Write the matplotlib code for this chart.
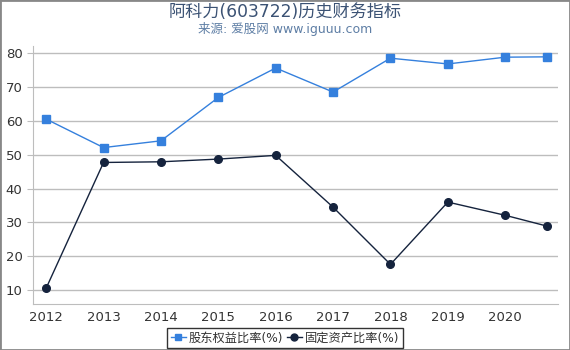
import matplotlib
matplotlib.use("Agg")
import matplotlib.pyplot as plt
from matplotlib.lines import Line2D

plt.rcParams['font.family'] = ['DejaVu Sans', 'Noto Sans CJK SC']

years = [2012, 2013, 2014, 2015, 2016, 2017, 2018, 2019, 2020, 2020.73]
equity_ratio = [60.5, 52.1, 54.1, 66.9, 75.6, 68.5, 78.5, 76.8, 78.8, 78.9]
fixed_asset_ratio = [10.6, 47.7, 47.9, 48.7, 49.8, 34.5, 17.6, 36.0, 32.1, 28.9]
xticks = [2012, 2013, 2014, 2015, 2016, 2017, 2018, 2019, 2020]
yticks = [10, 20, 30, 40, 50, 60, 70, 80]

blue = '#3580dd'
dark = '#15233d'
grid_c = '#bdbdbd'
text_c = '#333333'

fig = plt.figure(figsize=(5.7, 3.5), dpi=100)
ax = fig.add_axes([33 / 570, 46 / 350, 525 / 570, 258 / 350])

ax.plot(years, equity_ratio, color=blue, lw=1, marker='s', ms=5.5,
        label='股东权益比率(%)', zorder=3)
ax.plot(years, fixed_asset_ratio, color=dark, lw=1, marker='o', ms=5.5,
        label='固定资产比率(%)', zorder=3)

ax.set_xlim(2011.77, 2020.92)
ax.set_ylim(5.9, 82.1)
ax.set_xticks(xticks)
ax.set_xticklabels([str(y) for y in xticks])
ax.set_yticks(yticks)
ax.yaxis.grid(True, color=grid_c, lw=1)
ax.set_axisbelow(True)
for s in ['top', 'right']:
    ax.spines[s].set_visible(False)
ax.spines['left'].set_color(grid_c)
ax.spines['bottom'].set_color(grid_c)
ax.tick_params(axis='both', colors=grid_c, labelcolor=text_c, labelsize=9.5, length=4)
ax.tick_params(axis='x', length=0, pad=5)

fig.text(0.5, 0.965, '阿科力(603722)历史财务指标', ha='center', va='center',
         fontsize=12.3, color='#3b5274')
fig.text(0.5, 0.918, '来源: 爱股网 www.iguuu.com', ha='center', va='center',
         fontsize=9, color='#5e7ea5')

handles = [Line2D([], [], color=blue, marker='s', ms=5, lw=1),
           Line2D([], [], color=dark, marker='o', ms=5, lw=1)]
leg = fig.legend(handles, ['股东权益比率(%)', '固定资产比率(%)'], loc='lower center',
                 bbox_to_anchor=(0.5, -0.012), ncol=2, frameon=True, fancybox=False,
                 fontsize=8.8, handlelength=1.2, handletextpad=0.25, columnspacing=0.3,
                 borderpad=0.3, labelcolor=text_c)
leg.get_frame().set_edgecolor('black')
leg.get_frame().set_linewidth(1)

fig.patches.append(plt.Rectangle((0, 0), 1, 1, transform=fig.transFigure,
                                 fill=False, edgecolor='#888888', lw=2))

fig.savefig('out.png', dpi=100)
